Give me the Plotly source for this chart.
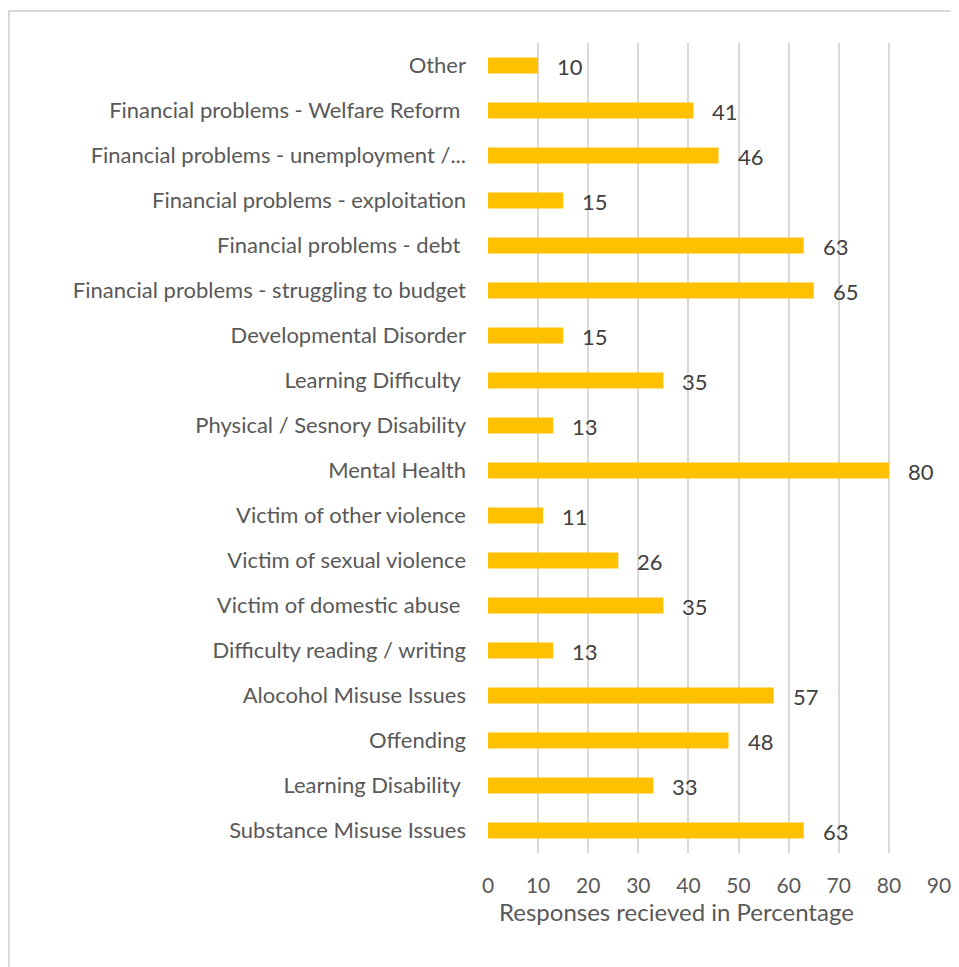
import plotly.graph_objects as go

categories = [
    "Substance Misuse Issues",
    "Learning Disability ",
    "Offending",
    "Alocohol Misuse Issues",
    "Difficulty reading / writing",
    "Victim of domestic abuse ",
    "Victim of sexual violence",
    "Victim of other violence",
    "Mental Health",
    "Physical / Sesnory Disability",
    "Learning Difficulty ",
    "Developmental Disorder",
    "Financial problems - struggling to budget",
    "Financial problems - debt ",
    "Financial problems - exploitation",
    "Financial problems - unemployment /...",
    "Financial problems - Welfare Reform ",
    "Other",
]
values = [63, 33, 48, 57, 13, 35, 26, 11, 80, 13, 35, 15, 65, 63, 15, 46, 41, 10]
x_ticks = [0, 10, 20, 30, 40, 50, 60, 70, 80, 90]
x_title = "Responses recieved in Percentage"

FONT = "Lato"
GREY = "#595959"

fig = go.Figure(go.Bar(
    y=categories, x=values, orientation="h",
    marker=dict(color="#FFC000", line=dict(width=0)),
    width=0.36,
))

for c, v in zip(categories, values):
    fig.add_annotation(x=v, y=c, text=str(v), showarrow=False,
                       xanchor="left", xshift=17, yshift=-1,
                       font=dict(family=FONT, size=22, color="#404040"))

fig.add_annotation(x=0.419, y=0, xref="paper", yref="paper", yshift=-42,
                   text=x_title, showarrow=False, xanchor="center", yanchor="top",
                   font=dict(family=FONT, size=24, color=GREY))

fig.update_layout(
    width=951, height=959,
    margin=dict(l=480, r=20, t=35, b=114, autoexpand=False),
    paper_bgcolor="white", plot_bgcolor="white",
    showlegend=False,
    font=dict(family=FONT, size=22, color=GREY),
    shapes=[dict(type="rect", xref="paper", yref="paper",
                 x0=-1.0621, x1=1.2, y0=-0.25, y1=1.0395,
                 line=dict(color="#D9D9D9", width=2), fillcolor="rgba(0,0,0,0)",
                 layer="below")],
    xaxis=dict(range=[0, 90], tickvals=x_ticks, showgrid=True, automargin=False,
               gridcolor="#D9D9D9", gridwidth=2, zeroline=False,
               showline=False, ticks="", ticklabelstandoff=18,
               tickfont=dict(family=FONT, size=21, color=GREY)),
    yaxis=dict(showgrid=False, zeroline=False, showline=False, ticks="",
               ticklabelstandoff=21, range=[-0.5, 17.5], automargin=False,
               tickfont=dict(family=FONT, size=22, color=GREY)),
)

fig.write_html("out.html")
